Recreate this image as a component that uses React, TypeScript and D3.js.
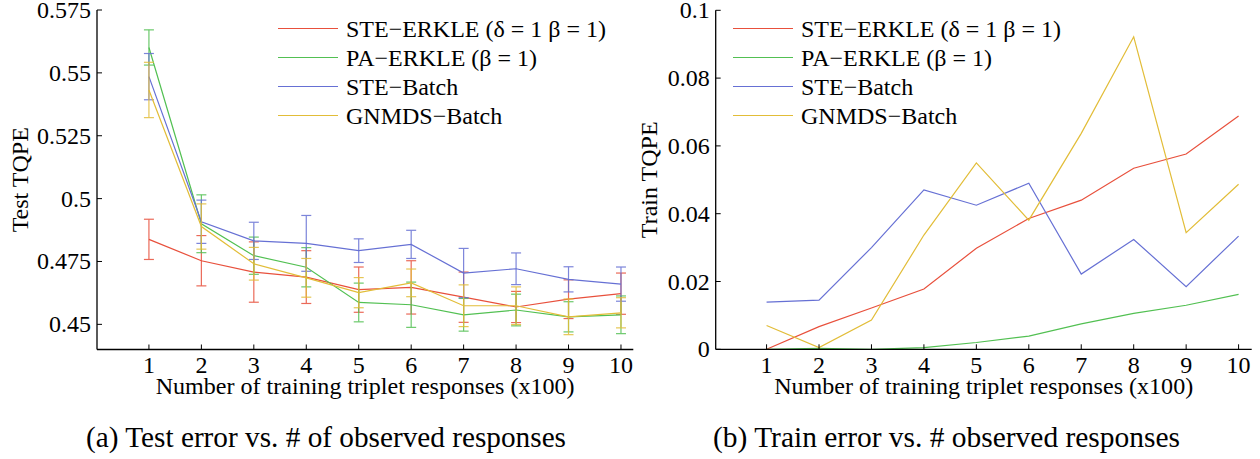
import React from "react";
import * as d3 from "d3";

// x positions: number of training triplet responses (x100)
const steps = [1, 2, 3, 4, 5, 6, 7, 8, 9, 10];

// Test TQPE means and error half-widths
const testSteErkle = [0.4838, 0.4753, 0.4708, 0.4688, 0.4638, 0.4647, 0.4608, 0.4569, 0.46, 0.4622];
const testSteErkleErr = [0.008, 0.01, 0.012, 0.0105, 0.009, 0.0106, 0.01, 0.0062, 0.0077, 0.0082];
const testPaErkle = [0.5601, 0.49, 0.4773, 0.4727, 0.4587, 0.4578, 0.4538, 0.4557, 0.453, 0.4538];
const testPaErkleErr = [0.007, 0.0115, 0.0074, 0.0078, 0.0077, 0.009, 0.0065, 0.0063, 0.006, 0.0075];
const testSteBatch = [0.5485, 0.4908, 0.4832, 0.4822, 0.4793, 0.4818, 0.4704, 0.4721, 0.4679, 0.466];
const testSteBatchErr = [0.0092, 0.0086, 0.0074, 0.0111, 0.0047, 0.0056, 0.0098, 0.0063, 0.005, 0.0068];
const testGnmds = [0.5432, 0.4889, 0.4741, 0.4685, 0.4626, 0.4665, 0.4574, 0.4574, 0.453, 0.4546];
const testGnmdsErr = [0.011, 0.009, 0.0065, 0.0077, 0.006, 0.0055, 0.0083, 0.0075, 0.0071, 0.006];

// Train TQPE
const trainSteErkle = [0, 0.0067, 0.0122, 0.0178, 0.0298, 0.0386, 0.044, 0.0534, 0.0576, 0.0688];
const trainPaErkle = [0, 0.0003, 0, 0.0005, 0.002, 0.0039, 0.0075, 0.0106, 0.013, 0.0162];
const trainSteBatch = [0.0139, 0.0145, 0.03, 0.047, 0.0425, 0.049, 0.0222, 0.0324, 0.0185, 0.0334];
const trainGnmds = [0.007, 0.0005, 0.0086, 0.0337, 0.055, 0.0381, 0.0637, 0.0922, 0.0344, 0.0487];

const seriesNames = [
  "STE\u2212ERKLE (\u03b4 = 1 \u03b2 = 1)",
  "PA\u2212ERKLE (\u03b2 = 1)",
  "STE\u2212Batch",
  "GNMDS\u2212Batch",
];
const seriesColors = ["#e8503c", "#52c052", "#6670d4", "#e2bd38"];

const testTicks = [0.45, 0.475, 0.5, 0.525, 0.55, 0.575];
const testTickLabels = ["0.45", "0.475", "0.5", "0.525", "0.55", "0.575"];
const trainTicks = [0, 0.02, 0.04, 0.06, 0.08, 0.1];
const trainTickLabels = ["0", "0.02", "0.04", "0.06", "0.08", "0.1"];

const xLabel = "Number of training triplet responses (x100)";
const captionA = "(a) Test error vs. # of observed responses";
const captionB = "(b) Train error vs. # observed responses";

const FONT = "'Liberation Serif', 'Times New Roman', serif";

type Panel = {
  x: d3.ScaleLinear<number, number>;
  y: d3.ScaleLinear<number, number>;
  ticks: number[];
  tickLabels: string[];
  yTitle: string;
  yTitleX: number;
  legendX: number;
};

function Axes({ p }: { p: Panel }) {
  const [x0, x1] = p.x.range();
  const [y0, y1] = p.y.range();
  return (
    <g>
      <line x1={x0} x2={x1} y1={y0} y2={y0} stroke="#000" strokeWidth={1.3} />
      <line x1={x0} x2={x0} y1={y0} y2={y1} stroke="#000" strokeWidth={1.3} />
      {steps.map((s) => (
        <g key={s}>
          <line x1={p.x(s)} x2={p.x(s)} y1={y0} y2={y0 - 5} stroke="#000" strokeWidth={1} />
          <text x={p.x(s)} y={373} textAnchor="middle" fontSize={24} fontFamily={FONT}>
            {s}
          </text>
        </g>
      ))}
      {p.ticks.map((t, i) => (
        <g key={t}>
          <line x1={x0} x2={x0 + 5} y1={p.y(t)} y2={p.y(t)} stroke="#000" strokeWidth={1} />
          <text
            x={x0 - 6}
            y={p.y(t) + 8}
            textAnchor="end"
            fontSize={24}
            fontFamily={FONT}
          >
            {p.tickLabels[i]}
          </text>
        </g>
      ))}
      <text
        x={(x0 + x1) / 2}
        y={394}
        textAnchor="middle"
        fontSize={24}
        fontFamily={FONT}
        textLength={419}
        lengthAdjust="spacingAndGlyphs"
      >
        {xLabel}
      </text>
      <text
        transform={`translate(${p.yTitleX},${(y0 + y1) / 2}) rotate(-90)`}
        textAnchor="middle"
        fontSize={24}
        fontFamily={FONT}
      >
        {p.yTitle}
      </text>
      {seriesNames.map((n, i) => {
        const ly = 28.5 + i * 29;
        return (
          <g key={n}>
            <line x1={p.legendX} x2={p.legendX + 60} y1={ly} y2={ly} stroke={seriesColors[i]} strokeWidth={1.2} />
            <text x={p.legendX + 68} y={ly + 8.5} fontSize={24} fontFamily={FONT}>
              {n}
            </text>
          </g>
        );
      })}
    </g>
  );
}

export default function App() {
  const left: Panel = {
    x: d3.scaleLinear().domain([0.01, 10.235]).range([97, 633.3]),
    y: d3.scaleLinear().domain([0.44, 0.575]).range([349.5, 10]),
    ticks: testTicks,
    tickLabels: testTickLabels,
    yTitle: "Test TQPE",
    yTitleX: 28,
    legendX: 278,
  };
  const right: Panel = {
    x: d3.scaleLinear().domain([0.03, 10.25]).range([715.7, 1251.7]),
    y: d3.scaleLinear().domain([0, 0.1]).range([349.3, 10.3]),
    ticks: trainTicks,
    tickLabels: trainTickLabels,
    yTitle: "Train TQPE",
    yTitleX: 657,
    legendX: 733,
  };

  const testSeries = [
    { mean: testSteErkle, err: testSteErkleErr },
    { mean: testPaErkle, err: testPaErkleErr },
    { mean: testSteBatch, err: testSteBatchErr },
    { mean: testGnmds, err: testGnmdsErr },
  ];
  const trainSeries = [trainSteErkle, trainPaErkle, trainSteBatch, trainGnmds];

  const lineL = d3
    .line<number>()
    .x((_, i) => left.x(steps[i]))
    .y((d) => left.y(d));
  const lineR = d3
    .line<number>()
    .x((_, i) => right.x(steps[i]))
    .y((d) => right.y(d));

  return (
    <svg
      width={1260}
      height={459}
      style={{ position: "absolute", left: 0, top: 0, background: "#fff" }}
    >
      <rect width={1260} height={459} fill="#fff" />
      {/* Test error with error bars */}
      {testSeries.map((s, k) => (
        <g key={k}>
          {s.mean.map((m, i) => {
            const cx = left.x(steps[i]);
            const yt = left.y(m + s.err[i]);
            const yb = left.y(m - s.err[i]);
            return (
              <g key={i} stroke={seriesColors[k]} strokeWidth={1.2} opacity={0.85}>
                <line x1={cx} x2={cx} y1={yt} y2={yb} />
                <line x1={cx - 5} x2={cx + 5} y1={yt} y2={yt} />
                <line x1={cx - 5} x2={cx + 5} y1={yb} y2={yb} />
              </g>
            );
          })}
          <path d={lineL(s.mean) ?? ""} fill="none" stroke={seriesColors[k]} strokeWidth={1.2} />
        </g>
      ))}
      <Axes p={left} />

      {/* Train error */}
      {trainSeries.map((s, k) => (
        <path key={k} d={lineR(s) ?? ""} fill="none" stroke={seriesColors[k]} strokeWidth={1.2} />
      ))}
      <Axes p={right} />

      <text x={86} y={447} fontSize={29} fontFamily={FONT} textLength={480} lengthAdjust="spacingAndGlyphs">
        {captionA}
      </text>
      <text x={713} y={447} fontSize={29} fontFamily={FONT} textLength={467} lengthAdjust="spacingAndGlyphs">
        {captionB}
      </text>
    </svg>
  );
}
